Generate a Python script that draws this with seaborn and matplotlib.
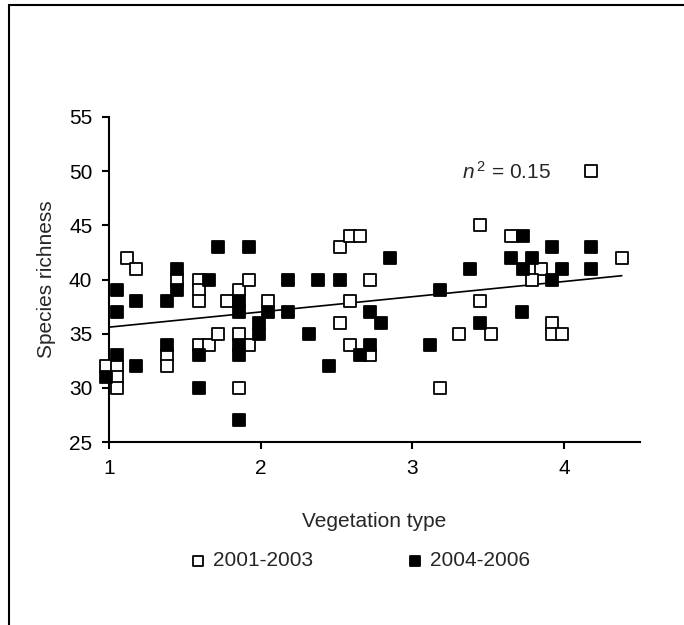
import matplotlib
matplotlib.use("Agg")
import matplotlib.pyplot as plt
import seaborn as sns
import pandas as pd
from matplotlib.patches import Rectangle

# ---- data ----
open_x = [0.98, 1.05, 1.05, 1.05, 1.116, 1.18, 1.38, 1.38, 1.445, 1.59, 1.59, 1.59,
          1.59, 1.66, 1.72, 1.78, 1.855, 1.855, 1.855, 1.92, 1.92, 2.05, 2.52, 2.52,
          2.59, 2.59, 2.59, 2.656, 2.72, 2.72, 3.18, 3.31, 3.445, 3.445, 3.52, 3.65,
          3.79, 3.85, 3.79, 3.92, 3.92, 3.985, 4.18, 4.38]
open_y = [32, 32, 31, 30, 42, 41, 33, 32, 40, 40, 39, 38,
          34, 34, 35, 38, 39, 35, 30, 40, 34, 38, 43, 36,
          44, 38, 34, 44, 40, 33, 30, 35, 45, 38, 35, 44,
          41, 41, 40, 36, 35, 35, 50, 42]

filled_x = [0.98, 1.05, 1.05, 1.05, 1.18, 1.18, 1.38, 1.38, 1.445, 1.445, 1.59, 1.59,
            1.66, 1.72, 1.855, 1.855, 1.855, 1.855, 1.855, 1.92, 1.99, 1.99, 2.05, 2.18,
            2.18, 2.316, 2.38, 2.447, 2.52, 2.656, 2.72, 2.72, 2.79, 2.853, 3.116, 3.18,
            3.38, 3.445, 3.65, 3.72, 3.73, 3.73, 3.79, 3.92, 3.92, 3.985, 4.18, 4.18]
filled_y = [31, 39, 37, 33, 38, 32, 38, 34, 41, 39, 33, 30,
            40, 43, 38, 37, 34, 33, 27, 43, 36, 35, 37, 40,
            37, 35, 40, 32, 40, 33, 37, 34, 36, 42, 34, 39,
            41, 36, 42, 37, 44, 41, 42, 43, 40, 41, 43, 41]

trend_x = [1.0, 4.38]
trend_y = [35.6, 40.35]

series_labels = ["2001-2003", "2004-2006"]
x_ticks = [1, 2, 3, 4]
y_ticks = [25, 30, 35, 40, 45, 50, 55]
annotation = r"$\mathit{n}^{\,2}$ = 0.15"

# ---- style ----
sns.set_theme(style="ticks")
plt.rcParams["font.family"] = ["Liberation Sans", "DejaVu Sans"]
plt.rcParams["mathtext.fontset"] = "custom"
plt.rcParams["mathtext.rm"] = "Liberation Sans"
plt.rcParams["mathtext.it"] = "Liberation Sans:italic"

FS = 15

fig = plt.figure(figsize=(6.84, 6.25), dpi=100)
ax = fig.add_axes([109 / 684, 1 - 442 / 625, (640 - 109) / 684, (442 - 117) / 625])

df_open = pd.DataFrame({"x": open_x, "y": open_y})
df_fill = pd.DataFrame({"x": filled_x, "y": filled_y})

sns.lineplot(x=trend_x, y=trend_y, ax=ax, color="black", linewidth=1.2, zorder=1)
sns.scatterplot(data=df_open, x="x", y="y", ax=ax, marker="s", s=68,
                facecolor="white", edgecolor="black", linewidth=1.3,
                label=series_labels[0], zorder=3, clip_on=False)
sns.scatterplot(data=df_fill, x="x", y="y", ax=ax, marker="s", s=68,
                color="black", edgecolor="black", linewidth=1.3,
                label=series_labels[1], zorder=4, clip_on=False)

ax.set_xlim(1, 4.5)
ax.set_ylim(25, 55)
ax.set_xticks(x_ticks)
ax.set_yticks(y_ticks)
ax.set_xticklabels([str(t) for t in x_ticks])
ax.set_yticklabels([str(t) for t in y_ticks])
for side in ["top", "right"]:
    ax.spines[side].set_visible(False)
for side in ["left", "bottom"]:
    ax.spines[side].set_linewidth(1.5)
    ax.spines[side].set_color("black")
ax.tick_params(axis="both", direction="out", length=5, width=1.5,
               labelsize=FS, colors="black", pad=7)

ax.set_xlabel("Vegetation type", fontsize=FS, labelpad=25)
ax.set_ylabel("Species richness", fontsize=FS, labelpad=9)

ax.text(3.33, 49.3, annotation, fontsize=FS, va="baseline", ha="left")

leg = ax.legend(loc="center", bbox_to_anchor=(359 / 684, 1 - 561 / 625),
                bbox_transform=fig.transFigure, ncol=2, frameon=False,
                fontsize=FS, handletextpad=0.2, columnspacing=4.4,
                markerscale=0.8, handlelength=1.0)

fig.patches.append(Rectangle((9 / 684, -0.1), 1.2, 1 - 5 / 625 + 0.1,
                             transform=fig.transFigure, fill=False,
                             edgecolor="black", linewidth=1.5))

fig.savefig("out.png", dpi=100)
